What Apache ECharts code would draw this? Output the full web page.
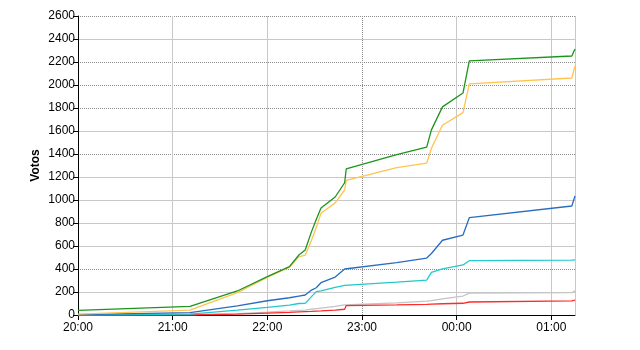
<!DOCTYPE html>
<html>
<head>
<meta charset="utf-8">
<script src="https://cdn.jsdelivr.net/npm/echarts@6/dist/echarts.min.js"></script>
<style>html,body{margin:0;padding:0;background:#fff;}#c{width:640px;height:350px;}</style>
</head>
<body>
<div id="c"></div>
<script>
const times = ["20:00","21:11","21:41","22:00","22:14","22:20","22:24","22:28","22:31","22:34","22:43","22:49","22:50","23:22","23:41","23:44","23:51","00:04","00:08","01:13","01:15"];
const green  = [41, 75, 209, 333, 420, 522, 565, 725, 830, 930, 1026, 1150, 1270, 1395, 1460, 1610, 1810, 1930, 2210, 2252, 2313];
const orange = [8, 43, 194, 326, 415, 505, 520, 650, 760, 885, 975, 1087, 1170, 1281, 1320, 1450, 1650, 1760, 2010, 2061, 2165];
const blue   = [3, 20, 80, 124, 150, 165, 174, 217, 237, 281, 330, 400, 417, 455, 495, 535, 650, 695, 846, 948, 1035];
const cyan   = [2, 8, 43, 67, 85, 100, 101, 160, 203, 210, 240, 258, 261, 285, 304, 370, 402, 435, 472, 478, 480];
const gray   = [0, 3, 12, 25, 35, 40, 43, 50, 55, 60, 75, 88, 93, 105, 120, 125, 140, 165, 190, 195, 211];
const red    = [0, 0, 8, 17, 22, 27, 30, 32, 34, 36, 43, 50, 82, 88, 93, 95, 98, 102, 113, 122, 130];
const yTicks = [0,200,400,600,800,1000,1200,1400,1600,1800,2000,2200,2400,2600];
const xTickLabels = ["20:00","21:00","22:00","23:00","00:00","01:00"];

function toMin(s){ let [h,m]=s.split(":").map(Number); if(h<12) h+=24; return (h-20)*60+m; }
function pts(vals){ return times.map((t,i)=>[toMin(t), vals[i]]); }

const dottedY = [400,1400,1800,2000,2200,2600];
const solidYColors = yTicks.map(v => dottedY.includes(v) || v===0 ? 'rgba(0,0,0,0)' : '#c8c8c8');
const dotYColors = yTicks.map(v => dottedY.includes(v) ? '#8a8a8a' : 'rgba(0,0,0,0)');
const xVals = [0,60,120,180,240,300,315];
const dottedX = [0,180];
const solidXColors = xVals.map(v => dottedX.includes(v) ? 'rgba(0,0,0,0)' : '#c8c8c8');
const dotXColors = xVals.map(v => dottedX.includes(v) ? '#8a8a8a' : 'rgba(0,0,0,0)');

const font = 'Liberation Sans, Arial, sans-serif';
const chart = echarts.init(document.getElementById('c'), null, {renderer:'canvas'});
const mk = (name, data, color) => ({
  name, type:'line', data: pts(data), showSymbol:false, symbol:'none',
  lineStyle:{color, width:1.3}, itemStyle:{color}, xAxisIndex:0, yAxisIndex:0, z:3
});
chart.setOption({
  animation:false,
  backgroundColor:'#fff',
  grid:{left:78, right:65, top:16, bottom:35, containLabel:false},
  xAxis:[{
    type:'value', min:0, max:315, interval:60,
    axisLine:{show:true, lineStyle:{color:'#000', width:1}},
    axisTick:{show:true, length:5, lineStyle:{color:'#000'}},
    axisLabel:{showMaxLabel:false, color:'#000', fontSize:12, fontFamily:font, margin:7,
      formatter: v => xTickLabels[Math.round(v/60)] || ''},
    splitLine:{show:true, lineStyle:{color:solidXColors, width:1}}
  },{
    type:'value', min:0, max:315, interval:60, position:'bottom',
    axisLine:{show:false}, axisTick:{show:false}, axisLabel:{show:false},
    splitLine:{show:true, lineStyle:{color:dotXColors, width:1, type:[1,1]}}
  }],
  yAxis:[{
    type:'value', min:0, max:2600, interval:200,
    name:'Votos', nameLocation:'middle', nameGap:36, nameRotate:90, nameMoveOverlap:false,
    nameTextStyle:{color:'#000', fontSize:12, fontWeight:'bold', fontFamily:font},
    axisLine:{show:true, lineStyle:{color:'#000', width:1}},
    axisTick:{show:true, length:5, lineStyle:{color:'#000'}},
    axisLabel:{color:'#000', fontSize:12, fontFamily:font, margin:3, formatter: v => String(v)},
    splitLine:{show:true, lineStyle:{color:solidYColors, width:1}}
  },{
    type:'value', min:0, max:2600, interval:200, position:'left',
    axisLine:{show:false}, axisTick:{show:false}, axisLabel:{show:false},
    splitLine:{show:true, lineStyle:{color:dotYColors, width:1, type:[1,1]}}
  }],
  series:[
    mk('gray', gray, '#c4c4c4'),
    mk('red', red, '#ff2a2a'),
    mk('cyan', cyan, '#22c8cc'),
    mk('blue', blue, '#2a6cbf'),
    mk('orange', orange, '#ffc44f'),
    mk('green', green, '#1c951c')
  ]
});
</script>
</body>
</html>
